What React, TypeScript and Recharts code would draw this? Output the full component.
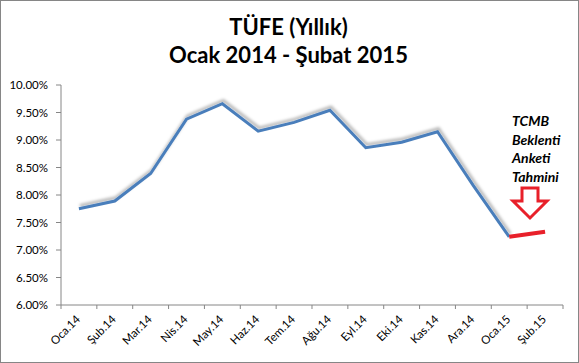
import { LineChart, Line, XAxis, YAxis } from 'recharts'

const months = ['Oca.14', 'Şub.14', 'Mar.14', 'Nis.14', 'May.14', 'Haz.14', 'Tem.14', 'Ağu.14', 'Eyl.14', 'Eki.14', 'Kas.14', 'Ara.14', 'Oca.15', 'Şub.15']
const tufe = [7.75, 7.89, 8.39, 9.38, 9.66, 9.16, 9.32, 9.54, 8.86, 8.96, 9.15, 8.17, 7.24, null]
const beklenti = [null, null, null, null, null, null, null, null, null, null, null, null, 7.24, 7.33]
const yTicks = [6, 6.5, 7, 7.5, 8, 8.5, 9, 9.5, 10]
const noteLines = ['TCMB', 'Beklenti', 'Anketi', 'Tahmini']

const FONT = 'Lato, "Open Sans", sans-serif'
const AXIS = '#868686'
const HALF_STEP = 17.93

const data = months.map((m, i) => ({ month: m, tufe: tufe[i], beklenti: beklenti[i] }))

// category label rotated 45deg, tick marks between categories (Excel style)
function MonthTick(props: any) {
  const { x, y, payload, index } = props
  const last = index === months.length - 1
  return (
    <g>
      <line x1={x - HALF_STEP} y1={y} x2={x - HALF_STEP} y2={y + 4} stroke={AXIS} />
      {last && <line x1={x + HALF_STEP} y1={y} x2={x + HALF_STEP} y2={y + 4} stroke={AXIS} />}
      <text
        x={x + 2}
        y={y + 15}
        transform={`rotate(-45 ${x + 2} ${y + 15})`}
        textAnchor="end"
        fontSize={11.5}
        fontFamily={FONT}
        fill="#000"
      >
        {payload.value}
      </text>
    </g>
  )
}

export default function App() {
  return (
    <div style={{ position: 'fixed', top: 0, left: 0, width: 579, height: 363, background: '#fff' }}>
      <LineChart width={579} height={363} data={data} margin={{ top: 85, right: 16, left: 0, bottom: 0 }}>
        <defs>
          <filter id="lineShadow" x="-10%" y="-20%" width="120%" height="140%">
            <feDropShadow dx="1" dy="-3" stdDeviation="1.5" floodColor="#000" floodOpacity="0.3" />
          </filter>
        </defs>
        <XAxis
          dataKey="month"
          padding={{ left: HALF_STEP, right: HALF_STEP }}
          height={58}
          interval={0}
          tickLine={false}
          tickSize={0}
          tickMargin={0}
          axisLine={{ stroke: AXIS }}
          tick={<MonthTick />}
        />
        <YAxis
          width={61}
          domain={[6, 10]}
          ticks={yTicks}
          tickSize={5}
          tickMargin={8}
          tickFormatter={(v: number) => v.toFixed(2) + '%'}
          axisLine={{ stroke: AXIS }}
          tickLine={{ stroke: AXIS }}
          tick={{ fontSize: 11.5, fill: '#000', fontFamily: FONT }}
          allowDataOverflow
        />
        <Line
          dataKey="tufe"
          stroke="#4a7ebb"
          strokeWidth={3}
          dot={false}
          activeDot={false}
          filter="url(#lineShadow)"
          isAnimationActive={false}
        />
        <Line
          dataKey="beklenti"
          stroke="#e8202a"
          strokeWidth={4}
          dot={false}
          activeDot={false}
          isAnimationActive={false}
        />
      </LineChart>

      <div
        style={{
          position: 'absolute',
          top: 13,
          left: 0,
          width: 577,
          textAlign: 'center',
          fontFamily: FONT,
          fontWeight: 'bold',
          fontSize: 22,
          lineHeight: '28px',
          color: '#000',
        }}
      >
        <div>TÜFE (Yıllık)</div>
        <div>Ocak 2014 - Şubat 2015</div>
      </div>

      <div
        style={{
          position: 'absolute',
          top: 112,
          left: 512,
          fontFamily: FONT,
          fontWeight: 'bold',
          fontStyle: 'italic',
          fontSize: 14,
          lineHeight: '18.7px',
          color: '#000',
        }}
      >
        {noteLines.map((t) => (
          <div key={t}>{t}</div>
        ))}
      </div>

      <svg style={{ position: 'absolute', top: 0, left: 0 }} width={579} height={363}>
        <polygon
          points="522,188 538,188 538,201 547,201 530,218 513,201 522,201"
          fill="#fff"
          stroke="#e8202a"
          strokeWidth={3}
          strokeLinejoin="miter"
        />
      </svg>

      <div
        style={{
          position: 'absolute',
          top: 0,
          left: 0,
          width: 579,
          height: 363,
          boxSizing: 'border-box',
          border: `1px solid ${AXIS}`,
          pointerEvents: 'none',
        }}
      />
    </div>
  )
}
